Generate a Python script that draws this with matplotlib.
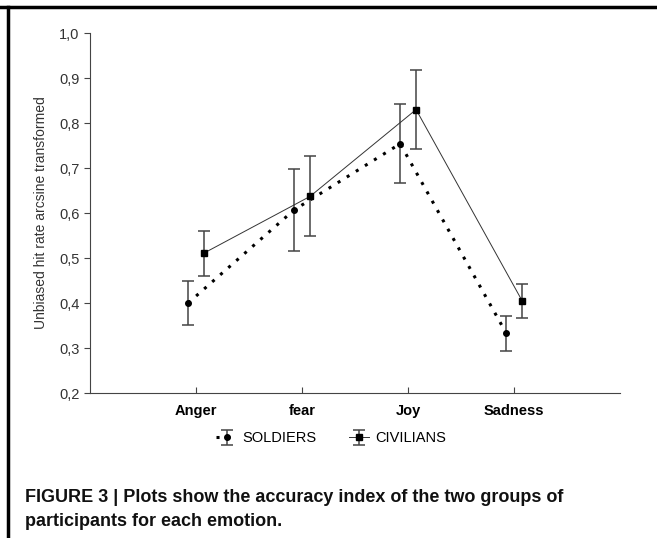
import numpy as np
import matplotlib.pyplot as plt
from matplotlib.lines import Line2D

emotions = ['Anger', 'fear', 'Joy', 'Sadness']
soldiers = [0.400, 0.607, 0.754, 0.333]
soldiers_err = [0.049, 0.091, 0.088, 0.039]
civilians = [0.511, 0.637, 0.830, 0.405]
civilians_err = [0.050, 0.089, 0.087, 0.038]
yticks = [0.2, 0.3, 0.4, 0.5, 0.6, 0.7, 0.8, 0.9, 1.0]

plt.rcParams['font.family'] = ['Liberation Sans', 'DejaVu Sans']

fig = plt.figure(figsize=(6.57, 5.38), dpi=100)
ax = fig.add_axes([0.137, 0.2695, 0.807, 0.669])

x = np.arange(1, len(emotions) + 1)
off = 0.075

ax.errorbar(x - off, soldiers, yerr=soldiers_err, color='black', ecolor='#444444',
            elinewidth=1.1, capsize=4, capthick=1.1, marker='o', markersize=4,
            linestyle=(0, (1, 2.5)), linewidth=2.2, label='SOLDIERS')
ax.errorbar(x + off, civilians, yerr=civilians_err, color='#333333', ecolor='#444444',
            elinewidth=1.1, capsize=4, capthick=1.1, marker='s', markersize=5,
            markerfacecolor='black', markeredgecolor='black',
            linestyle='-', linewidth=0.7, label='CIVILIANS')

ax.set_xlim(0, 5)
ax.set_ylim(0.2, 1.0)
ax.set_xticks(x)
ax.set_xticklabels(emotions, fontweight='bold', fontsize=10.5)
ax.set_yticks(yticks)
ax.set_yticklabels([f'{v:.1f}'.replace('.', ',') for v in yticks], fontsize=10.5, color='#333333')
ax.tick_params(axis='x', direction='in', length=4, pad=8, color='#444444')
ax.tick_params(axis='y', direction='out', length=4, color='#444444')
for s in ['top', 'right']:
    ax.spines[s].set_visible(False)
for s in ['left', 'bottom']:
    ax.spines[s].set_color('#444444')
ax.set_ylabel('Unbiased hit rate arcsine transformed', fontsize=10, color='#333333', labelpad=8)

ax.legend(loc='upper center', bbox_to_anchor=(0.455, -0.07), ncol=2, frameon=False,
          fontsize=10.5, handlelength=1.4, columnspacing=2.2, handletextpad=0.4)

# frame of the figure box
fig.add_artist(Line2D([0, 1], [1 - 7 / 538, 1 - 7 / 538], color='black', lw=2.5))
fig.add_artist(Line2D([8 / 657, 8 / 657], [0, 1 - 7 / 538], color='black', lw=2.5))

cap_font = ['Liberation Sans Narrow', 'Liberation Sans']
fig.text(25 / 657, 1 - 497 / 538, 'FIGURE 3 | Plots show the accuracy index of the two groups of',
         fontsize=13, fontweight='bold', family=cap_font, va='center', color='#111111')
fig.text(25 / 657, 1 - 522 / 538, 'participants for each emotion.',
         fontsize=13, fontweight='bold', family=cap_font, va='center', color='#111111')

fig.savefig('out.png', dpi=100)
